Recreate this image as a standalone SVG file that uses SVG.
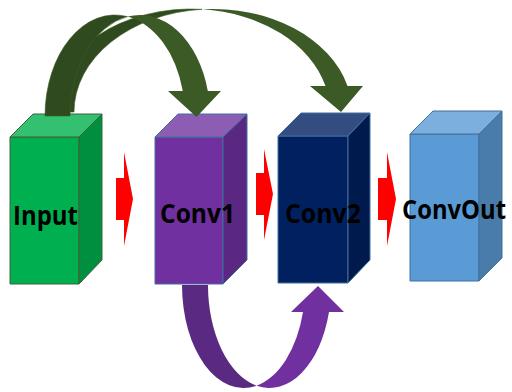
<svg xmlns="http://www.w3.org/2000/svg" width="512" height="392" viewBox="0 0 512 392">
  <style>
    .label { font-family: "Open Sans", "Noto Sans", "Liberation Sans", sans-serif; font-weight: 700; font-size: 26px; fill: #000; }
    .edge-g { stroke: #41613A; stroke-width: 1; stroke-linejoin: round; }
    .edge-b { stroke: #41719C; stroke-width: 1; stroke-linejoin: round; }
    .flow { fill: #FF0000; }
    .green-back { fill: #2F4A1E; stroke: #3B5A27; stroke-width: 0.6; }
    .green-front { fill: #3B5A25; }
    .purple-back { fill: #5A2A82; }
    .purple-front { fill: #7030A0; }
  </style>
  <rect width="512" height="392" fill="#FFFFFF"/>

  <!-- Blocks -->
  <g id="input">
    <polygon class="edge-g" fill="#00B050" points="10,137 79,137 79,284 10,284"/>
    <polygon class="edge-g" fill="#33C070" points="10,137 33,114 102,114 79,137"/>
    <polygon class="edge-g" fill="#008F3F" points="79,137 102,114 102,260 79,284"/>
    <text class="label" x="13" y="225" textLength="65" lengthAdjust="spacingAndGlyphs">Input</text>
  </g>
  <g id="conv1">
    <polygon class="edge-b" fill="#7030A0" points="155,137 223,137 223,284 155,284"/>
    <polygon class="edge-b" fill="#8D5DB4" points="155,137 178,114 247,114 223,137"/>
    <polygon class="edge-b" fill="#5A2783" points="223,137 247,114 247,260 223,284"/>
    <text class="label" x="160" y="223" textLength="75" lengthAdjust="spacingAndGlyphs">Conv1</text>
  </g>
  <g id="conv2">
    <polygon class="edge-b" fill="#002060" points="278,136 348,136 348,283 278,283"/>
    <polygon class="edge-b" fill="#334D80" points="278,136 301,113 370,113 348,136"/>
    <polygon class="edge-b" fill="#001A4D" points="348,136 370,113 370,260 348,283"/>
    <text class="label" x="285" y="223" textLength="76" lengthAdjust="spacingAndGlyphs">Conv2</text>
  </g>
  <g id="convout">
    <polygon class="edge-b" fill="#5B9BD5" points="410,134 479,134 479,281 410,281"/>
    <polygon class="edge-b" fill="#7CAFDD" points="410,134 433,111 502,111 479,134"/>
    <polygon class="edge-b" fill="#497CAA" points="479,134 502,111 502,258 479,281"/>
    <text class="label" x="402" y="219" textLength="104" lengthAdjust="spacingAndGlyphs">ConvOut</text>
  </g>

  <!-- Connectors -->
  <g id="connectors">
    <!-- straight flow arrows -->
    <polygon class="flow" points="116,178 124,178 124,152 133,199 124,246 124,220 116,220"/>
    <polygon class="flow" points="256,173 264,173 264,149 273,194 264,240 264,215 256,215"/>
    <polygon class="flow" points="378,178 387,178 387,152 396,199 387,246 387,220 378,220"/>

    <!-- skip: Input to Conv2 -->
    <path class="green-back" d="M52,112 A139,103 0 0 1 202,9.3 A139,103 0 0 0 74,112 Z"/>
    <path class="green-front" d="M202,9.3 A139,103 0 0 1 347.5,86 L363,86 L341,112 L310,86 L325.5,86 A139,103 0 0 0 202,9.3 Z"/>

    <!-- skip: Input to Conv1 -->
    <path class="green-back" d="M45,116 A70,101 0 0 1 127.5,16.6 A70,101 0 0 0 70,116 Z"/>
    <path class="green-front" d="M127.5,16.6 A70,101 0 0 1 207.8,91 L221,91 L196.5,117 L168,91 L182.8,91 A70,101 0 0 0 127.5,16.6 Z"/>

    <!-- skip: Conv1 to Conv2 underneath -->
    <path class="purple-back" d="M182,285 A61.6,103 0 0 0 256.6,385.7 A61.6,103 0 0 1 208,285 Z"/>
    <path class="purple-front" d="M256.6,385.7 A61.6,103 0 0 0 329,312 L344,312 L318,286 L291,312 L303,312 A61.6,103 0 0 1 256.6,385.7 Z"/>
  </g>
</svg>
